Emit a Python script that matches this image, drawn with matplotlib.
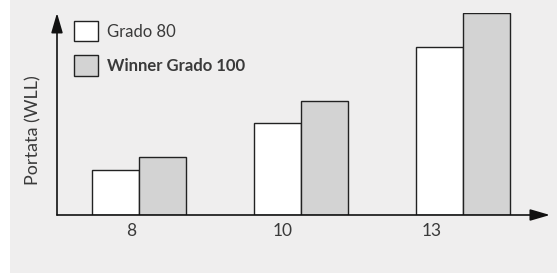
import matplotlib.pyplot as plt
from matplotlib.patches import Rectangle

categories = ['8', '10', '13']
grado80 = [45, 92, 168]
winner100 = [58, 114, 202]
series_names = ['Grado 80', 'Winner Grado 100']
label_shift = [0.05, 0.11, 0.19]

bg = '#efeeee'
gray = '#d3d3d3'
txt = '#3a3a3a'

plt.rcParams['font.family'] = ['Lato', 'DejaVu Sans']

fig = plt.figure(figsize=(5.57, 2.73), dpi=100, facecolor=bg)
# thin white strip on the left edge
fig.patches.append(Rectangle((0, 0), 10 / 557, 1, transform=fig.transFigure,
                             facecolor='white', edgecolor='none', zorder=0))

W, H = 557, 273
ax = fig.add_axes([57 / W, (H - 215) / H, (547 - 57) / W, (215 - 13) / H])
ax.set_facecolor(bg)

w = 0.29
xs = range(len(categories))
ax.bar([x - w / 2 for x in xs], grado80, width=w, color='white',
       edgecolor='#222222', linewidth=1.0, label=series_names[0])
ax.bar([x + w / 2 for x in xs], winner100, width=w, color=gray,
       edgecolor='#222222', linewidth=1.0, label=series_names[1])

ax.set_xlim(-0.506, 2.52)
ax.set_ylim(0, 202)
for s in ax.spines.values():
    s.set_visible(False)

ax.set_xticks([x - s for x, s in zip(xs, label_shift)])
ax.set_xticklabels(categories, fontsize=12.5, color=txt)
ax.tick_params(axis='x', length=0, pad=6)
ax.set_yticks([])
ax.set_ylabel('Portata (WLL)', fontsize=13, color=txt)
ax.yaxis.set_label_coords(-0.031, 0.42)

# axes with arrows
ax.annotate('', xy=(1.006, 0), xytext=(0, 0), xycoords='axes fraction',
            arrowprops=dict(arrowstyle='-|>,head_length=1.2,head_width=0.35',
                            color='#111111', lw=1.2, shrinkA=0, shrinkB=0),
            annotation_clip=False)
ax.annotate('', xy=(0, 1.0), xytext=(0, 0), xycoords='axes fraction',
            arrowprops=dict(arrowstyle='-|>,head_length=1.2,head_width=0.35',
                            color='#111111', lw=1.2, shrinkA=0, shrinkB=0),
            annotation_clip=False)

leg = ax.legend(loc='upper left', bbox_to_anchor=(0.004, 1.035), frameon=False,
                fontsize=12, handlelength=1.42, handleheight=1.5,
                labelspacing=0.85, handletextpad=0.55)
for t in leg.get_texts():
    t.set_color(txt)
leg.get_texts()[1].set_fontweight('bold')

fig.savefig('out.png', dpi=100, facecolor=bg)
